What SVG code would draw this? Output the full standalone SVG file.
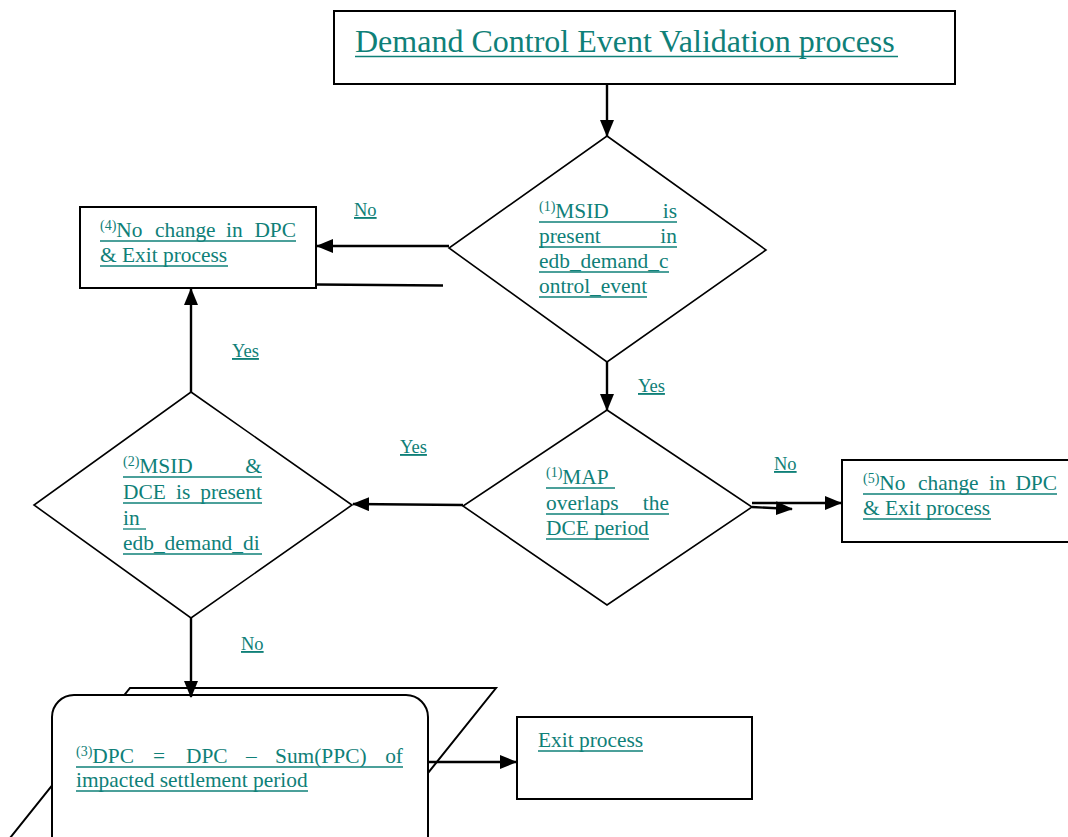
<svg xmlns="http://www.w3.org/2000/svg" width="1068" height="837" viewBox="0 0 1068 837">
  <style>
    .box { fill: #ffffff; stroke: #000000; stroke-width: 2; }
    .dia { fill: #ffffff; stroke: #000000; stroke-width: 1.6; }
    .t { font-family: "Liberation Serif", "Times New Roman", serif; font-size: 21.4px; fill: #0f8078; }
    .title { font-family: "Liberation Serif", "Times New Roman", serif; font-size: 32px; fill: #0f8078; }
    .lbl { font-family: "Liberation Serif", "Times New Roman", serif; font-size: 18.5px; fill: #0f8078; text-decoration: underline; }
    .sup { font-size: 14px; }
    .ul { stroke: #0f8078; stroke-width: 1.3; }
    .edge { fill: none; stroke: #000000; stroke-width: 2.4; }
  </style>
  <defs>
    <marker id="arrow" viewBox="0 0 17 14" refX="16" refY="7" markerWidth="17" markerHeight="14" markerUnits="userSpaceOnUse" orient="auto">
      <path d="M0,0 L17,7 L0,14 Z" fill="#000000"/>
    </marker>
  </defs>

  <rect width="1068" height="837" fill="#ffffff"/>

  <!-- title -->
  <g id="title">
    <rect class="box" x="334" y="11" width="621" height="73"/>
    <text class="title" x="355" y="52">Demand Control Event Validation process</text>
    <line class="ul" x1="355" y1="56.5" x2="898" y2="56.5" stroke-width="2"/>
  </g>

  <!-- step 3 backdrop: parallelogram behind the rounded box -->
  <g id="step3-back">
    <polygon class="box" stroke-width="1.8" points="130,688 496,688 376,838 10,838"/>
  </g>

  <!-- decision 1 -->
  <g id="decision-msid">
    <polygon class="dia" points="607,136 766,250 607,362 449,248"/>
    <text class="t" x="539" y="218"><tspan class="sup" dy="-7">(1)</tspan><tspan dy="7">MSID</tspan></text>
    <text class="t" x="677" y="218" text-anchor="end">is</text>
    <text class="t" x="539" y="243">present</text>
    <text class="t" x="677" y="243" text-anchor="end">in</text>
    <text class="t" x="539" y="268">edb_demand_c</text>
    <text class="t" x="539" y="293">ontrol_event</text>
    <line class="ul" x1="539" y1="222" x2="677" y2="222"/>
    <line class="ul" x1="539" y1="247" x2="677" y2="247"/>
    <line class="ul" x1="539" y1="272" x2="669" y2="272"/>
    <line class="ul" x1="539" y1="297" x2="647" y2="297"/>
  </g>

  <!-- outcome 4 -->
  <g id="no-change-4">
    <rect class="box" x="80" y="207" width="236" height="81"/>
    <text class="t" x="100" y="237"><tspan class="sup" dy="-7">(4)</tspan><tspan dy="7">No</tspan></text>
    <text class="t" x="155" y="237">change</text>
    <text class="t" x="226" y="237">in</text>
    <text class="t" x="296" y="237" text-anchor="end">DPC</text>
    <text class="t" x="100" y="262">&amp; Exit process</text>
    <line class="ul" x1="100" y1="241" x2="296" y2="241"/>
    <line class="ul" x1="100" y1="266" x2="228" y2="266"/>
  </g>

  <!-- decision 3 -->
  <g id="decision-map">
    <polygon class="dia" points="607,410 752,507 607,605 463,506"/>
    <text class="t" x="546" y="484"><tspan class="sup" dy="-7">(1)</tspan><tspan dy="7">MAP</tspan></text>
    <text class="t" x="546" y="510">overlaps</text>
    <text class="t" x="669" y="510" text-anchor="end">the</text>
    <text class="t" x="546" y="535">DCE period</text>
    <line class="ul" x1="546" y1="488" x2="615" y2="488"/>
    <line class="ul" x1="546" y1="514" x2="669" y2="514"/>
    <line class="ul" x1="546" y1="539" x2="649" y2="539"/>
  </g>

  <!-- decision 2 -->
  <g id="decision-dce">
    <polygon class="dia" points="191,392 352,505 191,618 34,505"/>
    <text class="t" x="123" y="473"><tspan class="sup" dy="-7">(2)</tspan><tspan dy="7">MSID</tspan></text>
    <text class="t" x="262" y="473" text-anchor="end">&amp;</text>
    <text class="t" x="123" y="499">DCE</text>
    <text class="t" x="176" y="499">is</text>
    <text class="t" x="262" y="499" text-anchor="end">present</text>
    <text class="t" x="123" y="525">in</text>
    <text class="t" x="123" y="550">edb_demand_di</text>
    <line class="ul" x1="123" y1="477" x2="262" y2="477"/>
    <line class="ul" x1="123" y1="503" x2="262" y2="503"/>
    <line class="ul" x1="123" y1="529" x2="146" y2="529"/>
    <line class="ul" x1="123" y1="554" x2="262" y2="554"/>
  </g>

  <!-- outcome 5 -->
  <g id="no-change-5">
    <rect class="box" x="842" y="460" width="240" height="82"/>
    <text class="t" x="863" y="490"><tspan class="sup" dy="-7">(5)</tspan><tspan dy="7">No</tspan></text>
    <text class="t" x="918" y="490">change</text>
    <text class="t" x="989" y="490">in</text>
    <text class="t" x="1057" y="490" text-anchor="end">DPC</text>
    <text class="t" x="863" y="515">&amp; Exit process</text>
    <line class="ul" x1="863" y1="494" x2="1057" y2="494"/>
    <line class="ul" x1="863" y1="519" x2="991" y2="519"/>
  </g>

  <!-- step 3 -->
  <g id="step3">
    <rect class="box" x="52" y="695" width="376" height="170" rx="22" ry="22"/>
    <text class="t" x="76" y="763"><tspan class="sup" dy="-7">(3)</tspan><tspan dy="7">DPC</tspan></text>
    <text class="t" x="153" y="763">=</text>
    <text class="t" x="186" y="763">DPC</text>
    <text class="t" x="246" y="763">–</text>
    <text class="t" x="275" y="763">Sum(PPC)</text>
    <text class="t" x="403" y="763" text-anchor="end">of</text>
    <text class="t" x="76" y="787">impacted settlement period</text>
    <line class="ul" x1="76" y1="767" x2="403" y2="767"/>
    <line class="ul" x1="76" y1="791" x2="308" y2="791"/>
  </g>

  <!-- exit -->
  <g id="exit">
    <rect class="box" x="517" y="717" width="235" height="82"/>
    <text class="t" x="538" y="747">Exit process</text>
    <line class="ul" x1="538" y1="751" x2="643" y2="751"/>
  </g>

  <!-- connectors -->
  <g id="connectors">
    <line class="edge" x1="607" y1="84" x2="607" y2="136" marker-end="url(#arrow)"/>
    <line class="edge" x1="449" y1="246" x2="317" y2="246" marker-end="url(#arrow)"/>
    <line class="edge" x1="316" y1="284.5" x2="443" y2="285.5"/>
    <line class="edge" x1="191" y1="392" x2="191" y2="289" marker-end="url(#arrow)"/>
    <line class="edge" x1="607" y1="362" x2="607" y2="410" marker-end="url(#arrow)"/>
    <line class="edge" x1="463" y1="505" x2="353" y2="504" marker-end="url(#arrow)"/>
    <line class="edge" x1="752" y1="503" x2="841" y2="503" marker-end="url(#arrow)"/>
    <line class="edge" x1="752" y1="507" x2="792" y2="509" marker-end="url(#arrow)"/>
    <line class="edge" x1="191" y1="618" x2="191" y2="697" marker-end="url(#arrow)"/>
    <line class="edge" x1="428" y1="762" x2="516" y2="762" marker-end="url(#arrow)"/>
  </g>

  <!-- branch labels -->
  <g id="labels">
    <text class="lbl" x="354" y="216">No</text>
    <text class="lbl" x="232" y="357">Yes</text>
    <text class="lbl" x="638" y="392">Yes</text>
    <text class="lbl" x="400" y="453">Yes</text>
    <text class="lbl" x="774" y="470">No</text>
    <text class="lbl" x="241" y="650">No</text>
  </g>
</svg>
